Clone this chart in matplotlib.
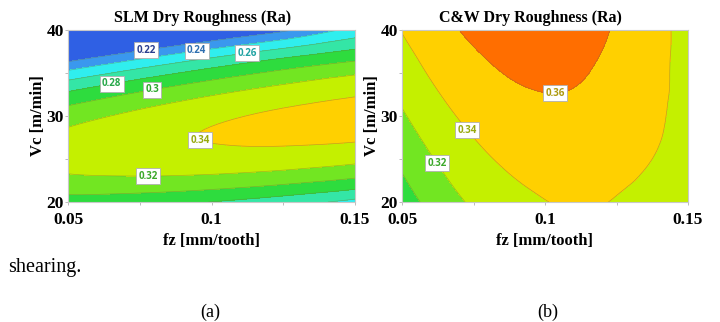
import numpy as np
import matplotlib
matplotlib.use('Agg')
import matplotlib.pyplot as plt
import matplotlib.tri as mtri
from matplotlib.colors import ListedColormap, BoundaryNorm
from matplotlib.ticker import FixedLocator, FixedFormatter

# ---------------- data ----------------
fz = [0.05, 0.0625, 0.075, 0.0875, 0.1, 0.1125, 0.125, 0.1375, 0.15]
vc = [20, 22.5, 25, 27.5, 30, 32.5, 35, 37.5, 40]

# rows: Vc from 20 to 40, columns: fz from 0.05 to 0.15
slm_ra = [
    [0.2909, 0.2894, 0.2870, 0.2838, 0.2796, 0.2745, 0.2685, 0.2617, 0.2539],
    [0.3149, 0.3157, 0.3156, 0.3146, 0.3127, 0.3099, 0.3062, 0.3016, 0.2961],
    [0.3263, 0.3293, 0.3315, 0.3327, 0.3331, 0.3326, 0.3312, 0.3288, 0.3256],
    [0.3250, 0.3303, 0.3348, 0.3385, 0.3409, 0.3427, 0.3435, 0.3435, 0.3426],
    [0.3111, 0.3187, 0.3254, 0.3312, 0.3361, 0.3402, 0.3433, 0.3455, 0.3468],
    [0.2846, 0.2945, 0.3035, 0.3115, 0.3187, 0.3250, 0.3304, 0.3349, 0.3385],
    [0.2455, 0.2576, 0.2689, 0.2792, 0.2887, 0.2972, 0.3049, 0.3117, 0.3176],
    [0.1937, 0.2081, 0.2216, 0.2343, 0.2460, 0.2568, 0.2668, 0.2758, 0.2840],
    [0.1293, 0.1460, 0.1618, 0.1767, 0.1907, 0.2038, 0.2160, 0.2320, 0.2460],
]

cw_ra = [
    [0.2903, 0.3087, 0.3229, 0.3330, 0.3395, 0.3418, 0.3390, 0.3323, 0.3217],
    [0.2976, 0.3153, 0.3289, 0.3384, 0.3437, 0.3449, 0.3420, 0.3370, 0.3255],
    [0.3045, 0.3216, 0.3346, 0.3434, 0.3481, 0.3487, 0.3451, 0.3400, 0.3287],
    [0.3112, 0.3277, 0.3400, 0.3482, 0.3522, 0.3522, 0.3480, 0.3425, 0.3305],
    [0.3177, 0.3335, 0.3451, 0.3527, 0.3561, 0.3554, 0.3506, 0.3440, 0.3318],
    [0.3238, 0.3390, 0.3500, 0.3569, 0.3597, 0.3584, 0.3529, 0.3452, 0.3327],
    [0.3297, 0.3443, 0.3546, 0.3609, 0.3630, 0.3611, 0.3550, 0.3458, 0.3332],
    [0.3354, 0.3492, 0.3590, 0.3646, 0.3661, 0.3635, 0.3567, 0.3464, 0.3335],
    [0.3407, 0.3540, 0.3631, 0.3681, 0.3689, 0.3657, 0.3583, 0.3468, 0.3337],
]

band_bounds = [0.0, 0.22, 0.24, 0.26, 0.28, 0.30, 0.32, 0.34, 0.36, 1.0]
slm_line_levels = [0.22, 0.24, 0.26, 0.28, 0.30, 0.32, 0.34]
cw_line_levels = [0.30, 0.32, 0.34, 0.36]

titles = ['SLM Dry Roughness (Ra)', 'C&W Dry Roughness (Ra)']
xticks = [0.05, 0.1, 0.15]
xtick_labels = ['0.05', '0.1', '0.15']
yticks = [20, 30, 40]
ytick_labels = ['20', '30', '40']

# ---------------- style ----------------
band_colors = ['#2F60E4', '#3A98EE', '#30EEEE', '#34E6A6', '#2EDC3E',
               '#72E622', '#C4F000', '#FFD000', '#FF6E00']
label_colors = {'0.22': '#2B3F8F', '0.24': '#2E6FB0', '0.26': '#22A3A3',
                '0.28': '#27A84A', '0.3': '#2EA82E', '0.32': '#3CA82A',
                '0.34': '#98AA10', '0.36': '#AE9A10'}

cmap = ListedColormap(band_colors)
norm = BoundaryNorm(band_bounds, cmap.N)
serif = 'Liberation Serif'

fig = plt.figure(figsize=(7.2, 3.22), dpi=100)
fig.patch.set_facecolor('white')
ax1 = fig.add_axes([68/720, 1-202/322, 287/720, 172/322])
ax2 = fig.add_axes([402/720, 1-202/322, 286/720, 172/322])

slm_label_pos = [(0.0772, 37.44), (0.0949, 37.44), (0.1124, 37.33),
                 (0.0653, 33.6), (0.0793, 33.0), (0.0956, 26.86), (0.0779, 22.9)]
cw_label_pos = [(0.1035, 32.44), (0.072, 28.14), (0.0619, 24.42)]

# smooth triangulated surface (library refinement) on index space
ii, jj = np.meshgrid(np.arange(len(fz), dtype=float),
                     np.arange(len(vc), dtype=float))
tri_idx = mtri.Triangulation(ii.ravel(), jj.ravel())
refiner = mtri.UniformTriRefiner(tri_idx)

for ax, Z, lines, title, lpos, tx in [
        (ax1, np.array(slm_ra), slm_line_levels, titles[0], slm_label_pos, 0.47),
        (ax2, np.array(cw_ra), cw_line_levels, titles[1], cw_label_pos, 0.45)]:
    tri_r, z_r = refiner.refine_field(Z.ravel(), subdiv=3)
    x_r = np.interp(tri_r.x, np.arange(len(fz)), fz)
    y_r = np.interp(tri_r.y, np.arange(len(vc)), vc)
    tri_d = mtri.Triangulation(x_r, y_r, tri_r.triangles)
    ax.tricontourf(tri_d, z_r, levels=band_bounds, cmap=cmap, norm=norm)
    cs = ax.tricontour(tri_d, z_r, levels=lines, colors='#6f6f40',
                       linewidths=0.5, alpha=0.45)
    texts = ax.clabel(cs, manual=lpos, inline=False,
                      fmt=lambda v: f'{v:g}', fontsize=7)
    for t in texts:
        t.set_color(label_colors.get(t.get_text(), '#333333'))
        t.set_fontfamily('Open Sans')
        t.set_fontweight('bold')
        t.set_rotation(0)
        t.set_bbox(dict(boxstyle='square,pad=0.25', facecolor='white',
                        edgecolor='#B0B0B0', linewidth=0.6))
    ax.set_xlim(0.05, 0.15)
    ax.set_ylim(20, 40)
    ax.set_title(title, fontsize=11.5, fontweight='bold', family=serif,
                 pad=6, x=tx)
    ax.xaxis.set_major_locator(FixedLocator(xticks))
    ax.xaxis.set_major_formatter(FixedFormatter(xtick_labels))
    ax.yaxis.set_major_locator(FixedLocator(yticks))
    ax.yaxis.set_major_formatter(FixedFormatter(ytick_labels))
    ax.xaxis.set_minor_locator(FixedLocator([0.075, 0.125]))
    ax.yaxis.set_minor_locator(FixedLocator([25, 35]))
    ax.tick_params(which='both', direction='out', color='#BBBBBB', width=0.7)
    ax.tick_params(axis='x', which='major', length=2, pad=5.5)
    ax.tick_params(axis='y', which='major', length=2, pad=1)
    ax.tick_params(which='minor', length=2)
    for lab in ax.get_xticklabels() + ax.get_yticklabels():
        lab.set_fontfamily(serif)
        lab.set_fontweight('bold')
        lab.set_fontsize(12.5)
    ax.set_xlabel('fz [mm/tooth]', fontsize=12, fontweight='bold',
                  family=serif, labelpad=3)
    ax.set_ylabel('Vc [m/min]', fontsize=12, fontweight='bold',
                  family=serif, labelpad=0)
    for s in ax.spines.values():
        s.set_color('#C8C8C8')
        s.set_linewidth(0.8)

fig.text(8/720, 1-272/322, 'shearing.', fontsize=14.5, family=serif,
         va='baseline', ha='left')
fig.text(210/720, 1-312/322, '(a)', fontsize=13, family=serif,
         va='center', ha='center')
fig.text(548/720, 1-312/322, '(b)', fontsize=13, family=serif,
         va='center', ha='center')

fig.savefig('out.png', dpi=100, facecolor='white')
